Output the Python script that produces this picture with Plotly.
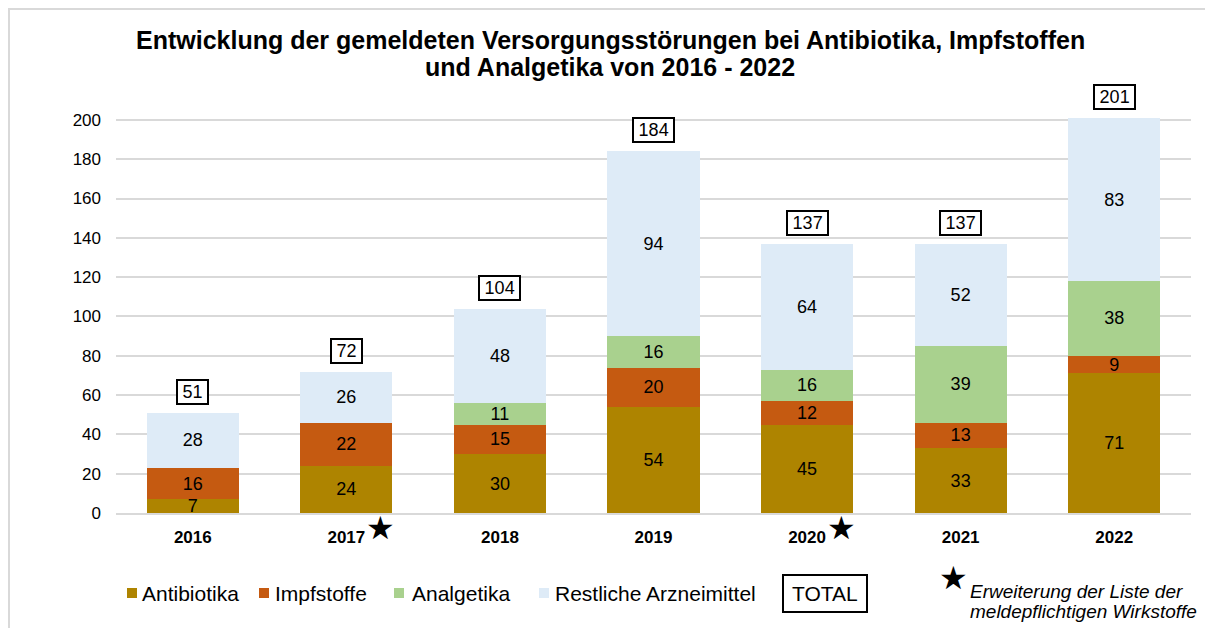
import plotly.graph_objects as go

years = ["2016", "2017", "2018", "2019", "2020", "2021", "2022"]
antibiotika = [7, 24, 30, 54, 45, 33, 71]
impfstoffe = [16, 22, 15, 20, 12, 13, 9]
analgetika = [0, 0, 11, 16, 16, 39, 38]
restliche = [28, 26, 48, 94, 64, 52, 83]
totals = [51, 72, 104, 184, 137, 137, 201]
star_years = ["2017", "2020"]

series_names = ["Antibiotika", "Impfstoffe", "Analgetika", "Restliche Arzneimittel"]
series_vals = [antibiotika, impfstoffe, analgetika, restliche]
colors = ["#AE8400", "#C55A11", "#A9D18E", "#DEEBF7"]

# page body has an 8px margin: work in reference-pixel coordinates and shift
OFF = 8
W, H = 1213 - OFF, 628 - OFF
ML, MR, MT, MB = 116 - OFF, 22, 116 - OFF, 115
PW, PH = W - ML - MR, H - MT - MB
FONT = "Liberation Sans, Arial, sans-serif"


def px(x):
    return (x - OFF - ML) / PW


def py(y):
    return (H - MB - (y - OFF)) / PH


fig = go.Figure()
for name, vals, col in zip(series_names, series_vals, colors):
    fig.add_trace(go.Bar(
        x=years, y=vals, name=name, marker=dict(color=col, line=dict(width=0)),
        text=[str(v) if v else "" for v in vals], textposition="inside",
        insidetextanchor="middle", constraintext="none", textangle=0,
        textfont=dict(family=FONT, size=18, color="black"),
        showlegend=False, hoverinfo="skip",
    ))

annotations = []
for i, t in enumerate(totals):
    annotations.append(dict(
        x=i, y=t, xref="x", yref="y", text="\u2009" + str(t) + "\u2009", showarrow=False,
        yshift=21, font=dict(family=FONT, size=18, color="black"),
        bordercolor="black", borderwidth=2, borderpad=1, bgcolor="white",
    ))
for yr in star_years:
    annotations.append(dict(
        x=years.index(yr), y=0, xref="x", yref="y", text="★", showarrow=False,
        xshift=34, yshift=-15, font=dict(family="DejaVu Sans", size=32, color="black"),
    ))

# title (two lines)
annotations.append(dict(x=px(610), y=py(40), xref="paper", yref="paper",
                        xanchor="center", yanchor="middle", showarrow=False,
                        text="<b>Entwicklung der gemeldeten Versorgungsstörungen bei Antibiotika, Impfstoffen</b>",
                        font=dict(family=FONT, size=25, color="black")))
annotations.append(dict(x=px(610), y=py(67), xref="paper", yref="paper",
                        xanchor="center", yanchor="middle", showarrow=False,
                        text="<b>und Analgetika von 2016 - 2022</b>",
                        font=dict(family=FONT, size=25, color="black")))

shapes = []
# legend
leg_sq = [127, 259, 394, 539]
leg_tx = [140, 273, 410, 553]
for name, col, sx, tx in zip(series_names, colors, leg_sq, leg_tx):
    shapes.append(dict(type="rect", xref="paper", yref="paper",
                       x0=px(sx), x1=px(sx + 10), y0=py(598), y1=py(588),
                       fillcolor=col, line=dict(width=0)))
    annotations.append(dict(x=px(tx), y=py(593), xref="paper", yref="paper",
                            xanchor="left", yanchor="middle", text=name, showarrow=False,
                            font=dict(family=FONT, size=21, color="black")))
shapes.append(dict(type="rect", xref="paper", yref="paper",
                   x0=px(783), x1=px(867), y0=py(612), y1=py(575),
                   line=dict(color="black", width=2), fillcolor="white"))
annotations.append(dict(x=px(825), y=py(593), xref="paper", yref="paper",
                        xanchor="center", yanchor="middle", text="TOTAL", showarrow=False,
                        font=dict(family=FONT, size=21, color="black")))
annotations.append(dict(x=px(953), y=py(578), xref="paper", yref="paper",
                        xanchor="center", yanchor="middle", text="★", showarrow=False,
                        font=dict(family="DejaVu Sans", size=32, color="black")))
note_lines = ["Erweiterung der Liste der", "meldepflichtigen Wirkstoffe"]
for line, ly in zip(note_lines, [591, 611]):
    annotations.append(dict(x=px(968), y=py(ly), xref="paper", yref="paper",
                            xanchor="left", yanchor="middle", align="left",
                            text="<i>" + line + "</i>", showarrow=False,
                            font=dict(family=FONT, size=19, color="black")))
# outer border
shapes.append(dict(type="rect", xref="paper", yref="paper",
                   x0=px(OFF + 1), x1=px(1211), y0=py(640), y1=py(OFF + 1),
                   line=dict(color="#D9D9D9", width=2), layer="below"))

fig.update_layout(
    width=W, height=H, barmode="stack", bargap=0.4,
    margin=dict(l=ML, r=MR, t=MT, b=MB, autoexpand=False),
    paper_bgcolor="white", plot_bgcolor="white",
    font=dict(family=FONT, color="black"),
    uniformtext=dict(minsize=18, mode="show"),
    annotations=annotations, shapes=shapes,
    xaxis=dict(type="category", range=[-0.5, 6.5], autorange=False, automargin=False,
               showgrid=False, showline=True, linecolor="#D9D9D9",
               linewidth=2, ticks="", ticklabelstandoff=8,
               tickfont=dict(family=FONT, size=17, color="black", weight="bold")),
    yaxis=dict(range=[0, 202], autorange=False, automargin=False, tick0=0, dtick=20,
               showgrid=True, gridcolor="#D9D9D9",
               gridwidth=2, zeroline=False, ticks="", ticklabelstandoff=14,
               tickfont=dict(family=FONT, size=17, color="black")),
)

fig.write_html("out.html")
